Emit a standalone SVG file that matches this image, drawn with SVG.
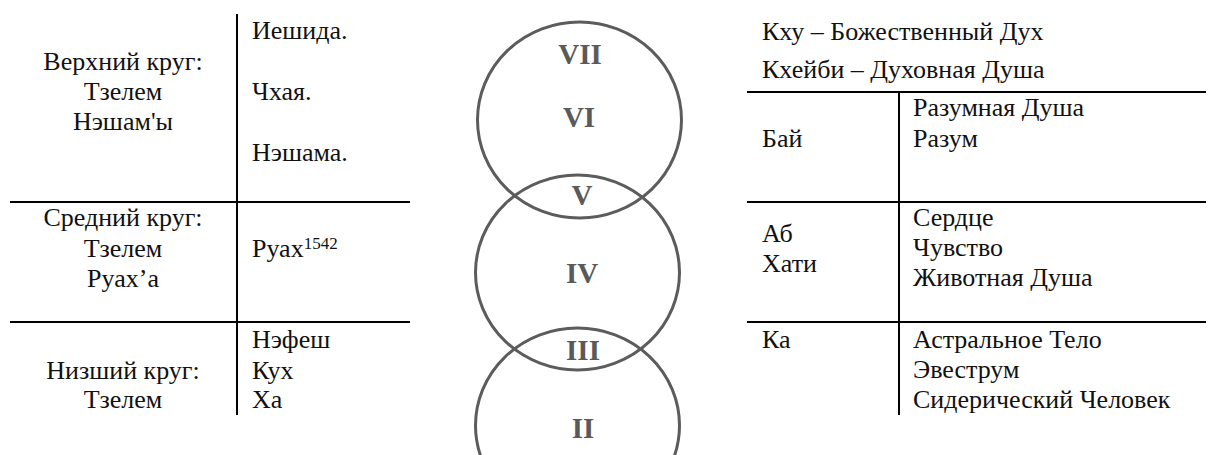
<svg xmlns="http://www.w3.org/2000/svg" width="1208" height="455" viewBox="0 0 1208 455">
<style>
.t{font-family:"Liberation Serif","DejaVu Serif","Times New Roman",serif;font-size:26px;fill:#111}
.c{text-anchor:middle}
.sup{font-size:17px}
.ln{stroke:#000;stroke-width:2;fill:none}
.ring{stroke:#5c5c5c;stroke-width:3;fill:none}
.rn{font-family:"Liberation Serif","DejaVu Serif",serif;font-size:29px;font-weight:bold;fill:#5a5a5a;text-anchor:middle}
</style>
<rect width="1208" height="455" fill="#fff"/>
<g id="connectors">
  <line class="ln" x1="237" y1="14" x2="237" y2="415"/>
  <line class="ln" x1="10" y1="202" x2="410" y2="202"/>
  <line class="ln" x1="10" y1="322" x2="410" y2="322"/>
  <line class="ln" x1="747" y1="92" x2="1206" y2="92"/>
  <line class="ln" x1="747" y1="202" x2="1206" y2="202"/>
  <line class="ln" x1="747" y1="322" x2="1206" y2="322"/>
  <line class="ln" x1="899" y1="92" x2="899" y2="415"/>
</g>
<g id="upper-left">
  <text class="t c" x="123" y="70">Верхний круг:</text>
  <text class="t c" x="123" y="100">Тзелем</text>
  <text class="t c" x="123" y="130">Нэшам'ы</text>
</g>
<g id="upper-right">
  <text class="t" x="252" y="39">Иешида.</text>
  <text class="t" x="252" y="100">Чхая.</text>
  <text class="t" x="252" y="161">Нэшама.</text>
</g>
<g id="middle-left">
  <text class="t c" x="123" y="226">Средний круг:</text>
  <text class="t c" x="123" y="257">Тзелем</text>
  <text class="t c" x="123" y="287">Руах’а</text>
</g>
<g id="middle-right">
  <text class="t" x="252" y="257">Руах<tspan class="sup" dy="-8">1542</tspan></text>
</g>
<g id="lower-left">
  <text class="t c" x="123" y="379">Низший круг:</text>
  <text class="t c" x="123" y="408">Тзелем</text>
</g>
<g id="lower-right">
  <text class="t" x="252" y="348">Нэфеш</text>
  <text class="t" x="252" y="379">Кух</text>
  <text class="t" x="252" y="408">Ха</text>
</g>
<g id="circles">
  <ellipse class="ring" cx="579.5" cy="120" rx="102" ry="98"/>
  <ellipse class="ring" cx="577.5" cy="272.5" rx="102" ry="97.5"/>
  <ellipse class="ring" cx="577.5" cy="425.5" rx="102" ry="97.5"/>
  <text class="rn" x="580" y="64">VII</text>
  <text class="rn" x="579" y="127">VI</text>
  <text class="rn" x="582" y="205">V</text>
  <text class="rn" x="582" y="283">IV</text>
  <text class="rn" x="583" y="360">III</text>
  <text class="rn" x="583" y="438">II</text>
</g>
<g id="top-right">
  <text class="t" x="762" y="40">Кху – Божественный Дух</text>
  <text class="t" x="762" y="78">Кхейби – Духовная Душа</text>
</g>
<g id="bai">
  <text class="t" x="762" y="147">Бай</text>
  <text class="t" x="913" y="116">Разумная Душа</text>
  <text class="t" x="913" y="147">Разум</text>
</g>
<g id="ab-hati">
  <text class="t" x="762" y="242">Аб</text>
  <text class="t" x="762" y="272">Хати</text>
  <text class="t" x="913" y="226">Сердце</text>
  <text class="t" x="913" y="256">Чувство</text>
  <text class="t" x="913" y="286">Животная Душа</text>
</g>
<g id="ka">
  <text class="t" x="762" y="348">Ка</text>
  <text class="t" x="913" y="348">Астральное Тело</text>
  <text class="t" x="913" y="378">Эвеструм</text>
  <text class="t" x="913" y="408">Сидерический Человек</text>
</g>
</svg>
